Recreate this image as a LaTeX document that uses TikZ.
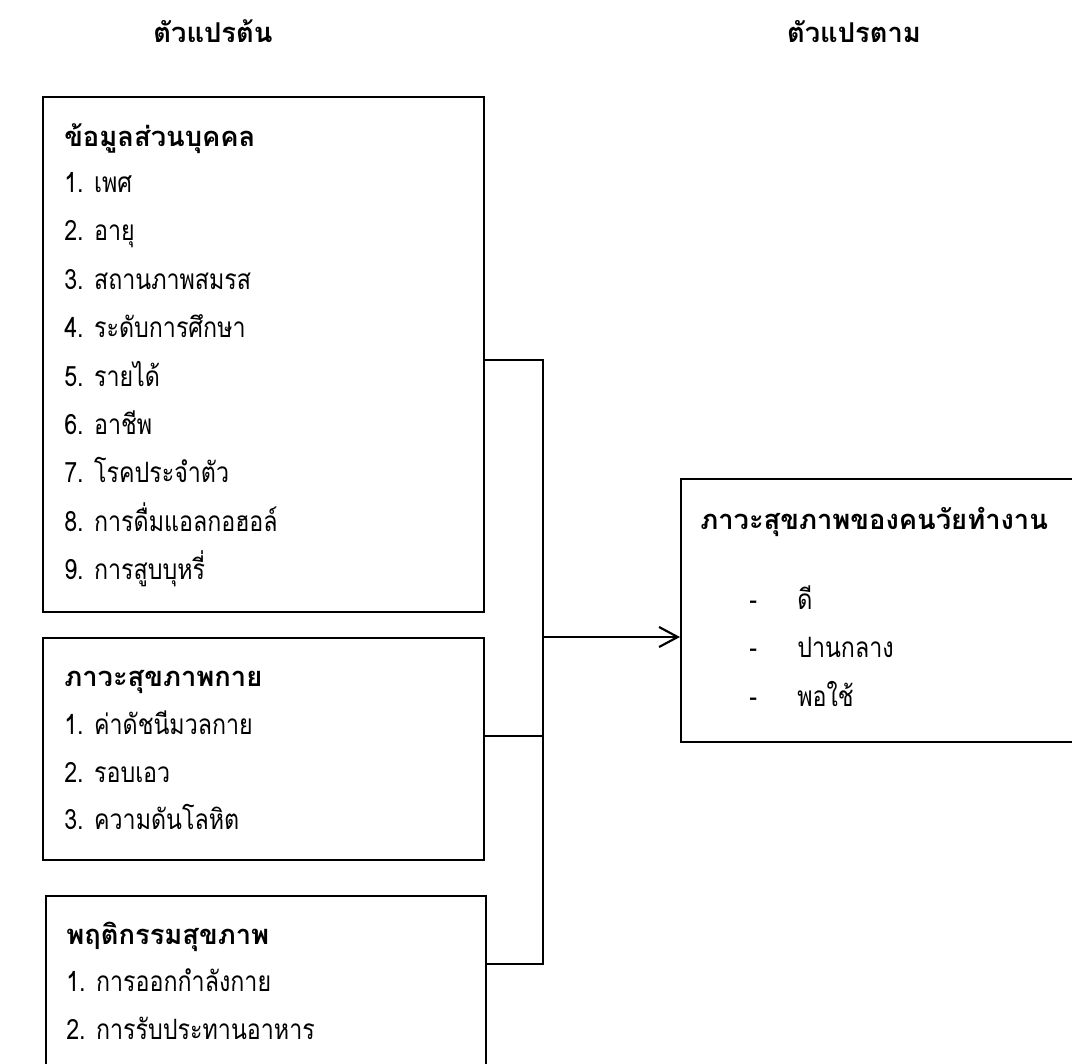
\documentclass[tikz,border=0pt]{standalone}
\usepackage{fontspec}
\newfontfamily\thai[Script=Thai, FakeStretch=0.83]{Loma}
\newfontfamily\thaib[Script=Thai]{Loma}
\usetikzlibrary{arrows.meta}
\begin{document}
\begin{tikzpicture}[x=0.75pt,y=-0.75pt,
  boxst/.style={draw, line width=1.2pt, inner sep=0pt, anchor=north west},
  rboxst/.style={draw, line width=1.6pt, inner sep=0pt, anchor=north west},
  titlest/.style={font=\thaib\fontsize{20.5}{24}\selectfont\bfseries, anchor=base west, inner sep=0pt},
  itemst/.style={font=\thai\fontsize{21}{24}\selectfont, anchor=base west, inner sep=0pt},
  headst/.style={font=\thaib\fontsize{20.5}{24}\selectfont\bfseries, anchor=base, inner sep=0pt},
  conn/.style={line width=1.1pt},
  arr/.style={line width=1.6pt, -{Straight Barb[length=14pt,width=15pt,line width=1.6pt]}}
]
\useasboundingbox (0,0) rectangle (1072,1064);
\clip (0,0) rectangle (1072,1064);

% headers
\node[headst] (h1) at (213,42) {ตัวแปรต้น};
\node[headst] (h2) at (854,42) {ตัวแปรตาม};

% boxes
\node[boxst, minimum width=330.75pt, minimum height=386.25pt] (b1) at (42,96) {};
\node[boxst, minimum width=330.75pt, minimum height=166.5pt] (b2) at (42,637) {};
\node[boxst, minimum width=330pt, minimum height=153.75pt] (b3) at (45,895) {};
\node[rboxst, minimum width=315pt, minimum height=197.25pt] (r) at (680,478) {};

% box 1 text
\node[titlest] (t1) at (64,146) {ข้อมูลส่วนบุคคล};
\node[itemst] (b1i1) at (64,192) {1. เพศ};
\node[itemst] (b1i2) at (64,240) {2. อายุ};
\node[itemst] (b1i3) at (64,289) {3. สถานภาพสมรส};
\node[itemst] (b1i4) at (64,337) {4. ระดับการศึกษา};
\node[itemst] (b1i5) at (64,386) {5. รายได้};
\node[itemst] (b1i6) at (64,434) {6. อาชีพ};
\node[itemst] (b1i7) at (64,482) {7. โรคประจำตัว};
\node[itemst] (b1i8) at (64,531) {8. การดื่มแอลกอฮอล์};
\node[itemst] (b1i9) at (64,579) {9. การสูบบุหรี่};

% box 2 text
\node[titlest] (t2) at (64,686) {ภาวะสุขภาพกาย};
\node[itemst] (b2i1) at (64,734) {1. ค่าดัชนีมวลกาย};
\node[itemst] (b2i2) at (64,782) {2. รอบเอว};
\node[itemst] (b2i3) at (64,829) {3. ความดันโลหิต};

% box 3 text
\node[titlest] (t3) at (66,944) {พฤติกรรมสุขภาพ};
\node[itemst] (b3i1) at (66,991) {1. การออกกำลังกาย};
\node[itemst] (b3i2) at (66,1039) {2. การรับประทานอาหาร};

% right box text
\node[titlest] (t4) at (700,529) {ภาวะสุขภาพของคนวัยทำงาน};
\node[itemst] (d1) at (749,609) {-};
\node[itemst] (r1) at (797,609) {ดี};
\node[itemst] (d2) at (749,657) {-};
\node[itemst] (r2) at (797,657) {ปานกลาง};
\node[itemst] (d3) at (749,706) {-};
\node[itemst] (r3) at (797,706) {พอใช้};

% connectors
\coordinate (j1) at (543,360);
\coordinate (j2) at (543,736);
\coordinate (j3) at (543,964);
\coordinate (ja) at (543,637);
\draw[conn] (b1.east |- j1) -- (j1) -- (j3) -- (b3.east |- j3);
\draw[conn] (b2.east |- j2) -- (j2);
\draw[arr] (ja) -- (r.west |- ja);
\end{tikzpicture}
\end{document}
